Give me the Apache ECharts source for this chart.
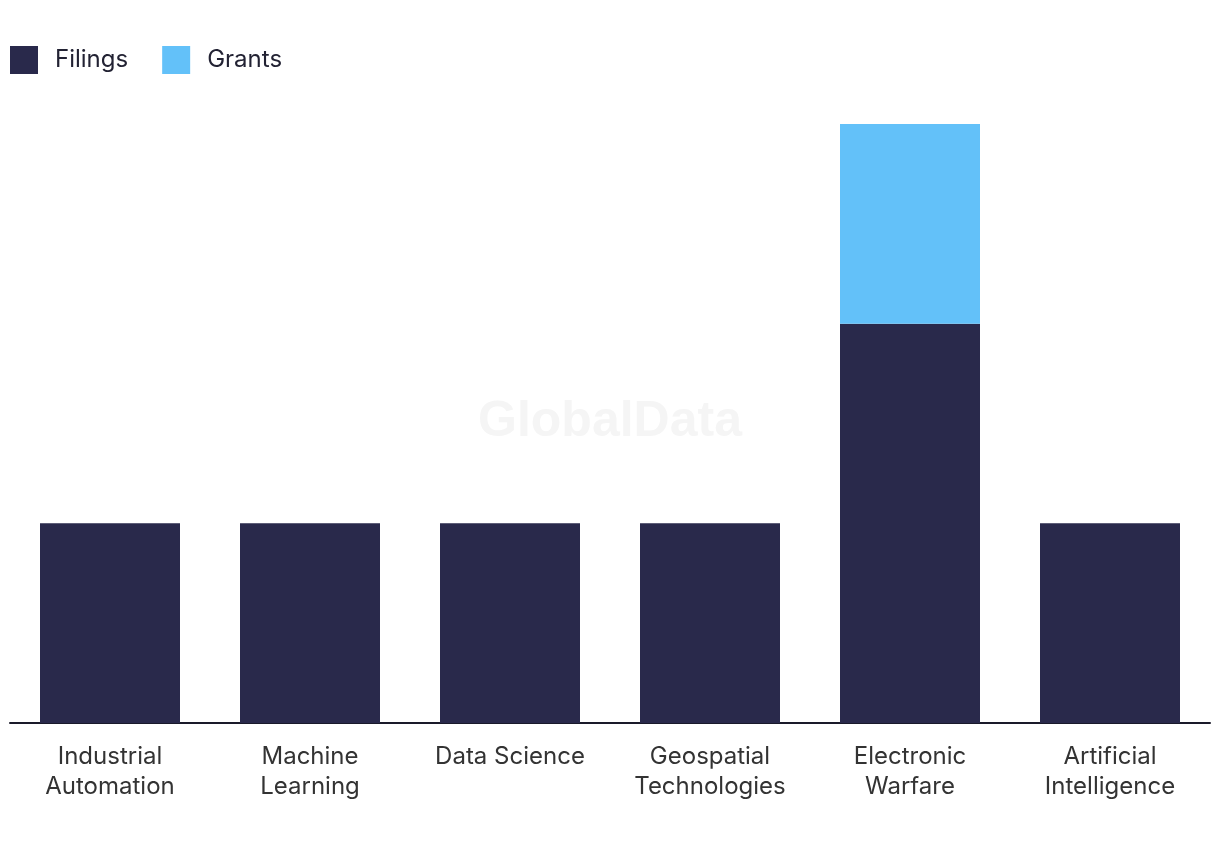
<!DOCTYPE html>
<html>
<head>
<meta charset="utf-8">
<script src="https://cdn.jsdelivr.net/npm/echarts@6/dist/echarts.min.js"></script>
<style>html,body{margin:0;padding:0;background:#fff}#c{width:1220px;height:850px}</style>
</head>
<body>
<div id="c"></div>
<script>
const categories = ['Industrial\nAutomation', 'Machine\nLearning', 'Data Science', 'Geospatial\nTechnologies', 'Electronic\nWarfare', 'Artificial\nIntelligence'];
const filings = [1, 1, 1, 1, 2, 1];
const grants = [0, 0, 0, 0, 1, 0];

const chart = echarts.init(document.getElementById('c'));
chart.setOption({
  animation: false,
  backgroundColor: '#ffffff',
  graphic: [{
    type: 'text', left: 'center', top: 397, z: 0,
    style: { text: 'GlobalData', font: 'bold 50px "Liberation Sans", Arial, sans-serif', fill: '#f5f5f5' }
  }],
  legend: {
    left: 5, top: 41, itemWidth: 28, itemHeight: 28, itemGap: 34, icon: 'rect',
    textStyle: { fontFamily: 'Inter', fontSize: 24, color: '#222233', padding: [0, 0, 0, 12] },
    data: ['Filings', 'Grants']
  },
  grid: { left: 10, right: 10, top: 124, bottom: 127, containLabel: false },
  xAxis: {
    type: 'category', data: categories,
    axisLine: { lineStyle: { color: '#1a1a2a', width: 2 } },
    axisTick: { show: false },
    axisLabel: { fontFamily: 'Inter', fontSize: 24, color: '#333333', lineHeight: 30, margin: 19, interval: 0 }
  },
  yAxis: { type: 'value', min: 0, max: 3, show: false, splitLine: { show: false } },
  series: [
    { name: 'Filings', type: 'bar', stack: 'a', data: filings, barWidth: 140, itemStyle: { color: '#29294b' } },
    { name: 'Grants', type: 'bar', stack: 'a', data: grants, barWidth: 140, itemStyle: { color: '#63c1f9' } }
  ]
});
</script>
</body>
</html>
